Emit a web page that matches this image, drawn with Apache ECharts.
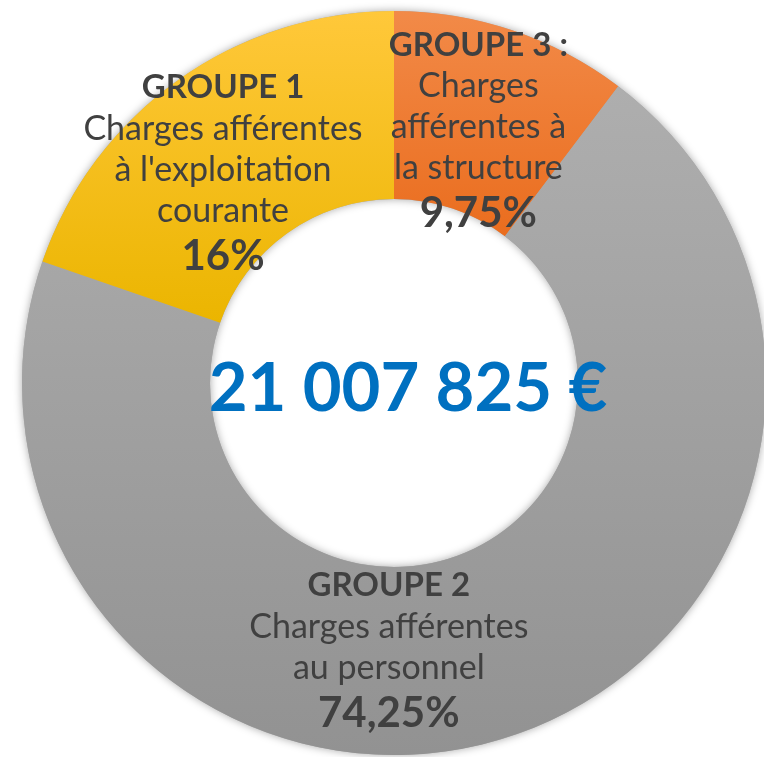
<!DOCTYPE html>
<html>
<head>
<meta charset="utf-8">
<script src="https://cdn.jsdelivr.net/npm/echarts@6/dist/echarts.min.js"></script>
<style>
html,body{margin:0;padding:0;background:#fff;}
#chart{width:764px;height:757px;}
</style>
</head>
<body>
<div id="chart"></div>
<script>
// ---- data ----
const groupNames = ['GROUPE 3 :', 'GROUPE 2', 'GROUPE 1'];
const groupDescriptions = [
  'Charges\nafférentes à\nla structure',
  'Charges afférentes\nau personnel',
  'Charges afférentes\nà l\'exploitation\ncourante'
];
// slice sizes as drawn in the picture (angles)
const sliceShares = [10.3, 70, 19.7];
// percentages printed in the labels
const shareLabels = ['9,75%', '74,25%', '16%'];
const totalLabel = '21 007 825 €';

// ---- styles ----
const gradients = [
  ['#F28A48', '#EA6D1E'],
  ['#AEAEAE', '#929292'],
  ['#FFC83A', '#EBB500']
];
const labelShifts = [[-5, 15], [-87, 0], [-8, 20]];
const FONT = 'Lato';
const CENTER = [394, 383];
const RADIUS = [184, 372];

const chart = echarts.init(document.getElementById('chart'), null, {renderer: 'canvas'});

const data = sliceShares.map((v, i) => ({
  name: groupNames[i],
  value: v,
  itemStyle: {
    color: new echarts.graphic.LinearGradient(0, 0, 0, 1, [
      {offset: 0, color: gradients[i][0]},
      {offset: 1, color: gradients[i][1]}
    ])
  },
  label: {
    formatter: () => '{b|' + groupNames[i] + '}\n' +
      groupDescriptions[i].split('\n').map(s => '{t|' + s + '}').join('\n') +
      '\n{p|' + shareLabels[i] + '}'
  }
}));

chart.setOption({
  animation: false,
  backgroundColor: '#ffffff',
  series: [
    {
      type: 'pie',
      silent: true,
      center: CENTER,
      radius: RADIUS,
      startAngle: 90,
      z: 1,
      label: {show: false},
      labelLine: {show: false},
      itemStyle: {
        color: '#a6a6a6',
        shadowBlur: 8,
        shadowColor: 'rgba(0,0,0,0.35)'
      },
      data: [{value: 1, name: 'ring'}]
    },
    {
      type: 'pie',
      center: CENTER,
      radius: RADIUS,
      startAngle: 90,
      clockwise: true,
      z: 2,
      avoidLabelOverlap: false,
      itemStyle: {borderWidth: 0},
      label: {
        show: true,
        position: 'inside',
        color: '#404040',
        align: 'center',
        rich: {
          b: {fontFamily: FONT, fontWeight: 'bold', fontSize: 33, lineHeight: 41, color: '#404040', align: 'center'},
          t: {fontFamily: FONT, fontWeight: 'normal', fontSize: 34, lineHeight: 41, color: '#404040', align: 'center'},
          p: {fontFamily: FONT, fontWeight: 'bold', fontSize: 42, lineHeight: 50, color: '#404040', align: 'center'}
        }
      },
      labelLayout: function (params) {
        const s = labelShifts[params.dataIndex];
        return {dx: s[0], dy: s[1]};
      },
      labelLine: {show: false},
      data: data
    }
  ],
  graphic: [
    {
      type: 'text',
      x: 408,
      y: 389,
      z: 100,
      style: {
        text: totalLabel,
        fill: '#0070C0',
        font: 'bold 67px ' + FONT,
        textAlign: 'center',
        textVerticalAlign: 'middle'
      }
    }
  ]
});
</script>
</body>
</html>
